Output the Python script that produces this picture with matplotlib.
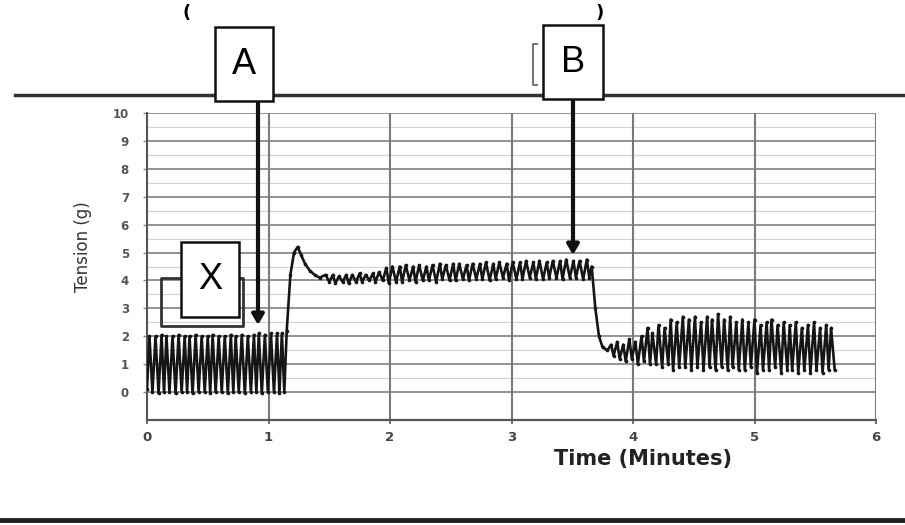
import matplotlib
matplotlib.use("Agg")
import matplotlib.pyplot as plt
from matplotlib.patches import Rectangle, FancyArrowPatch
from matplotlib.lines import Line2D

# ---------------- data ----------------
x_ticks = [0, 1, 2, 3, 4, 5, 6]
y_ticks = [0, 1, 2, 3, 4, 5, 6, 7, 8, 9, 10]

# segment 1: baseline contractions
seg1_peak_t = [0.02, 0.07, 0.12, 0.16, 0.21, 0.26, 0.31, 0.35, 0.40, 0.45, 0.50, 0.54,
               0.59, 0.64, 0.69, 0.73, 0.78, 0.83, 0.88, 0.92, 0.97, 1.02, 1.07, 1.11]
seg1_peak_v = [2.0, 2.0, 2.05, 2.0, 2.0, 2.05, 2.0, 2.0, 2.05, 2.0, 2.0, 2.05,
               2.0, 2.0, 2.05, 2.0, 2.05, 2.0, 2.05, 2.1, 2.05, 2.1, 2.1, 2.1]
seg1_trough_t = [0.045, 0.095, 0.14, 0.185, 0.235, 0.285, 0.33, 0.375, 0.425, 0.475, 0.52, 0.565,
                 0.615, 0.665, 0.71, 0.755, 0.805, 0.855, 0.90, 0.945, 0.995, 1.045, 1.09, 1.13]
seg1_trough_v = [0.0, -0.05, 0.0, 0.0, -0.05, 0.0, 0.0, -0.05, 0.0, 0.0, -0.05, 0.0,
                 0.0, -0.05, 0.0, 0.0, -0.05, 0.0, 0.0, -0.05, 0.0, 0.0, -0.05, 0.0]

# rise after drug A
rise_t = [1.15, 1.18, 1.21, 1.24, 1.27, 1.30, 1.34, 1.38, 1.42]
rise_v = [2.2, 4.2, 5.0, 5.2, 4.9, 4.6, 4.35, 4.2, 4.1]

# segment 2: sustained contracture
seg2_peak_t = [1.47, 1.53, 1.58, 1.64, 1.69, 1.75, 1.80, 1.86, 1.91, 1.97, 2.02, 2.08, 2.13,
               2.19, 2.24, 2.30, 2.35, 2.41, 2.46, 2.52, 2.57, 2.63, 2.68, 2.74, 2.79, 2.85,
               2.90, 2.96, 3.01, 3.07, 3.12, 3.18, 3.23, 3.29, 3.34, 3.40, 3.45, 3.51, 3.56, 3.62]
seg2_peak_v = [4.2, 4.2, 4.15, 4.2, 4.2, 4.25, 4.2, 4.25, 4.3, 4.45, 4.5, 4.5, 4.55,
               4.5, 4.55, 4.5, 4.55, 4.6, 4.55, 4.6, 4.6, 4.55, 4.6, 4.6, 4.65, 4.6,
               4.65, 4.6, 4.65, 4.65, 4.7, 4.65, 4.7, 4.65, 4.7, 4.7, 4.75, 4.7, 4.7, 4.75]
seg2_trough_t = [1.50, 1.55, 1.61, 1.66, 1.72, 1.77, 1.83, 1.88, 1.94, 1.99, 2.05, 2.10, 2.16,
                 2.21, 2.27, 2.32, 2.38, 2.43, 2.49, 2.54, 2.60, 2.65, 2.71, 2.76, 2.82, 2.87,
                 2.93, 2.98, 3.04, 3.09, 3.15, 3.20, 3.26, 3.31, 3.37, 3.42, 3.48, 3.53, 3.59, 3.64]
seg2_trough_v = [3.95, 3.9, 3.95, 3.9, 3.95, 3.95, 4.0, 3.95, 4.0, 3.9, 3.95, 3.95, 4.0,
                 3.95, 4.0, 4.0, 3.95, 4.05, 4.0, 4.0, 4.05, 4.0, 4.05, 4.05, 4.0, 4.05,
                 4.1, 4.0, 4.05, 4.05, 4.1, 4.05, 4.05, 4.1, 4.1, 4.05, 4.1, 4.1, 4.05, 4.1]

# drop after drug B
drop_t = [3.66, 3.69, 3.72, 3.75, 3.79]
drop_v = [4.5, 3.0, 2.0, 1.6, 1.5]

# segment 3: contractions after B
seg3_peak_t = [3.82, 3.87, 3.92, 3.97, 4.02, 4.07, 4.12, 4.16, 4.21, 4.26, 4.31, 4.36, 4.41,
               4.46, 4.51, 4.56, 4.61, 4.65, 4.70, 4.75, 4.80, 4.85, 4.90, 4.95, 5.00, 5.05,
               5.10, 5.14, 5.19, 5.24, 5.29, 5.34, 5.39, 5.44, 5.49, 5.54, 5.59, 5.63]
seg3_peak_v = [1.7, 1.8, 1.7, 1.9, 1.8, 2.0, 2.3, 2.1, 2.4, 2.3, 2.6, 2.5, 2.7,
               2.6, 2.7, 2.5, 2.7, 2.6, 2.8, 2.6, 2.7, 2.5, 2.6, 2.5, 2.6, 2.4,
               2.5, 2.6, 2.4, 2.5, 2.4, 2.5, 2.3, 2.4, 2.5, 2.3, 2.4, 2.3]
seg3_trough_t = [3.84, 3.89, 3.94, 3.99, 4.04, 4.09, 4.14, 4.19, 4.24, 4.29, 4.33, 4.38, 4.43,
                 4.48, 4.53, 4.58, 4.63, 4.68, 4.73, 4.78, 4.82, 4.87, 4.92, 4.97, 5.02, 5.07,
                 5.12, 5.17, 5.22, 5.27, 5.31, 5.36, 5.41, 5.46, 5.51, 5.56, 5.61, 5.66]
seg3_trough_v = [1.3, 1.2, 1.1, 1.2, 1.0, 1.1, 1.0, 1.0, 0.9, 1.0, 0.8, 0.9, 0.9,
                 0.8, 0.9, 0.8, 0.9, 0.8, 0.9, 0.8, 0.9, 0.8, 0.8, 0.9, 0.7, 0.8,
                 0.8, 0.9, 0.7, 0.8, 0.8, 0.7, 0.8, 0.7, 0.8, 0.7, 0.8, 0.8]

labels = ["A", "B", "X"]


def interleave(pt, pv, tt, tv):
    t, v = [], []
    for a, b, c, d in zip(pt, pv, tt, tv):
        t += [a, c]
        v += [b, d]
    return t, v


trace_t, trace_v = [0.0], [0.1]
for seg in [interleave(seg1_peak_t, seg1_peak_v, seg1_trough_t, seg1_trough_v),
            (rise_t, rise_v),
            interleave(seg2_peak_t, seg2_peak_v, seg2_trough_t, seg2_trough_v),
            (drop_t, drop_v),
            interleave(seg3_peak_t, seg3_peak_v, seg3_trough_t, seg3_trough_v)]:
    trace_t += list(seg[0])
    trace_v += list(seg[1])

# ---------------- figure ----------------
W, H = 905, 525
fig = plt.figure(figsize=(W / 100, H / 100), dpi=100)
fig.patch.set_facecolor("white")


def fx(px):
    return px / W


def fy(py):
    return 1 - py / H


ax = fig.add_axes([fx(147), fy(420), fx(876) - fx(147), fy(113) - fy(420)])
ax.set_xlim(0, 6)
ax.set_ylim(-1, 10)

# grid
for yv in y_ticks:
    ax.axhline(yv, color="#8a8a8a", lw=1.3, zorder=1)
for yv in y_ticks[:-1]:
    ax.axhline(yv + 0.5, color="#d2d2d2", lw=0.8, zorder=1)
for xv in x_ticks[1:]:
    ax.axvline(xv, color="#7a7a7a", lw=1.5, zorder=1)

ax.plot(trace_t, trace_v, color="#151515", lw=1.9, marker="o", markersize=2.6,
        markeredgewidth=0, zorder=3)

ax.set_xticks(x_ticks)
ax.set_yticks(y_ticks)
ax.set_xticklabels([str(v) for v in x_ticks], fontsize=9.5, fontweight="bold", color="#444444")
ax.set_yticklabels([str(v) for v in y_ticks], fontsize=8.5, fontweight="bold", color="#555555")
ax.tick_params(axis="x", length=3, width=1.2, color="#555555", pad=5)
ax.tick_params(axis="y", length=3, width=1.0, color="#888888", pad=10)
ax.spines["top"].set_visible(False)
ax.spines["right"].set_visible(False)
ax.spines["left"].set_color("#555555")
ax.spines["left"].set_linewidth(1.5)
ax.spines["bottom"].set_color("#555555")
ax.spines["bottom"].set_linewidth(1.6)

fig.text(fx(83), fy(247), "Tension (g)", rotation=90, ha="center", va="center",
         fontsize=12, color="#333333")
fig.text(fx(643), fy(459), "Time (Minutes)", ha="center", va="center",
         fontsize=15, fontweight="bold", color="#222222")

# page rules
fig.add_artist(Line2D([fx(15), fx(905)], [fy(95), fy(95)], color="#333333", lw=2.5))
fig.add_artist(Line2D([0, 1], [fy(520), fy(520)], color="#222222", lw=3.5))

# partial title brackets at the very top
fig.text(fx(187), fy(13), "(", ha="center", va="center", fontsize=13, fontweight="bold")
fig.text(fx(600), fy(13), ")", ha="center", va="center", fontsize=13, fontweight="bold")
fig.add_artist(Line2D([fx(537), fx(533), fx(533), fx(537)], [fy(44), fy(44), fy(85), fy(85)],
                      color="#777777", lw=1.5))


def box(x0, y0, x1, y1, text, fs=26):
    r = Rectangle((fx(x0), fy(y1)), fx(x1) - fx(x0), fy(y0) - fy(y1),
                  transform=fig.transFigure, facecolor="white", edgecolor="#111111",
                  lw=1.8, zorder=5)
    fig.add_artist(r)
    fig.text(fx((x0 + x1) / 2), fy((y0 + y1) / 2), text, ha="center", va="center",
             fontsize=fs, family="Liberation Sans", zorder=6)


# arrows
for xs, y0, y1 in [(258, 101, 325), (573, 99, 255)]:
    arr = FancyArrowPatch((fx(xs), fy(y0)), (fx(xs), fy(y1)), transform=fig.transFigure,
                          arrowstyle="-|>,head_length=6,head_width=3.5", lw=3,
                          color="#111111", zorder=4, shrinkA=0, shrinkB=0)
    fig.add_artist(arr)

box(215, 27, 273, 101, labels[0])
box(543, 25, 603, 99, labels[1])

# bracket around X
fig.add_artist(Line2D([fx(181), fx(161), fx(161), fx(243), fx(243), fx(239)],
                      [fy(278), fy(278), fy(326), fy(326), fy(278), fy(278)],
                      color="#333333", lw=2.0, zorder=4))
box(181, 242, 239, 317, labels[2])

fig.savefig("out.png", dpi=100, facecolor="white")
